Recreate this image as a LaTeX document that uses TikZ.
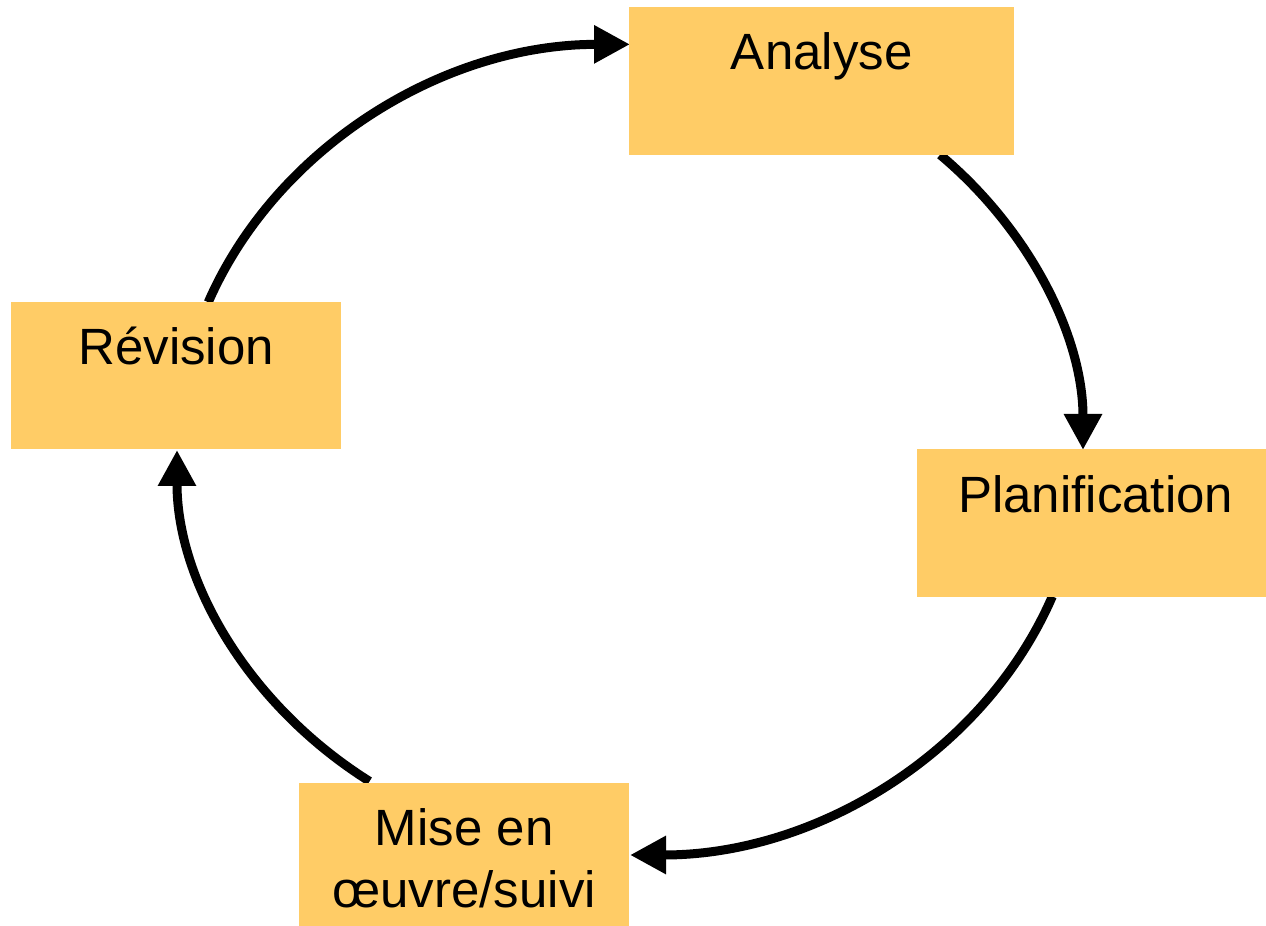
\documentclass[tikz,border=0pt]{standalone}
\usepackage{fontspec}
\setmainfont{Liberation Sans}
\usetikzlibrary{arrows.meta,calc}
\definecolor{boxfill}{HTML}{FFCC66}
\begin{document}
\begin{tikzpicture}[x=1pt,y=1pt,
  box/.style={draw=none,fill=boxfill,inner sep=0pt,anchor=south west},
  lbl/.style={anchor=base,inner sep=0pt,font=\fontsize{51}{62}\selectfont},
  cyc/.style={line width=9pt,-{Triangle[length=36pt,width=36pt]}}]
\useasboundingbox (0,0) rectangle (1266,926);
\coordinate (c) at (630,476);
% arc start points on the ellipse
\coordinate (s1) at ($(c)+(158.6:453 and 405)$);
\coordinate (s2) at ($(c)+(46.8:453 and 405)$);
\coordinate (s3) at ($(c)+(-21.2:453 and 405)$);
\coordinate (s4) at ($(c)+(-125.1:453 and 405)$);
\draw[cyc] (s1) arc[start angle=158.6,end angle=90,x radius=453,y radius=406];
\draw[cyc] (s2) arc[start angle=46.8,end angle=0,x radius=453,y radius=405];
\draw[cyc] (s3) arc[start angle=-21.2,end angle=-90,x radius=453,y radius=405];
\draw[cyc] (s4) arc[start angle=-125.1,end angle=-180,x radius=453,y radius=405];
% boxes
\node[box,minimum width=385pt,minimum height=148pt] (ana) at (629,771) {};
\node[box,minimum width=349pt,minimum height=148pt] (pla) at (917,329) {};
\node[box,minimum width=330pt,minimum height=143pt] (mis) at (299,0) {};
\node[box,minimum width=330pt,minimum height=147pt] (rev) at (11,477) {};
% labels
\node[lbl] (anat) at ($(ana.north)+(0,-63)$) {Analyse};
\node[lbl] (plat) at ($(pla.north)+(4,-64)$) {Planification};
\node[lbl] (mist1) at ($(mis.north)+(0,-63)$) {Mise en};
\node[lbl] (mist2) at ($(mis.north)+(0,-125)$) {œuvre/suivi};
\node[lbl] (revt) at ($(rev.north)+(0,-63)$) {Révision};
\end{tikzpicture}
\end{document}
